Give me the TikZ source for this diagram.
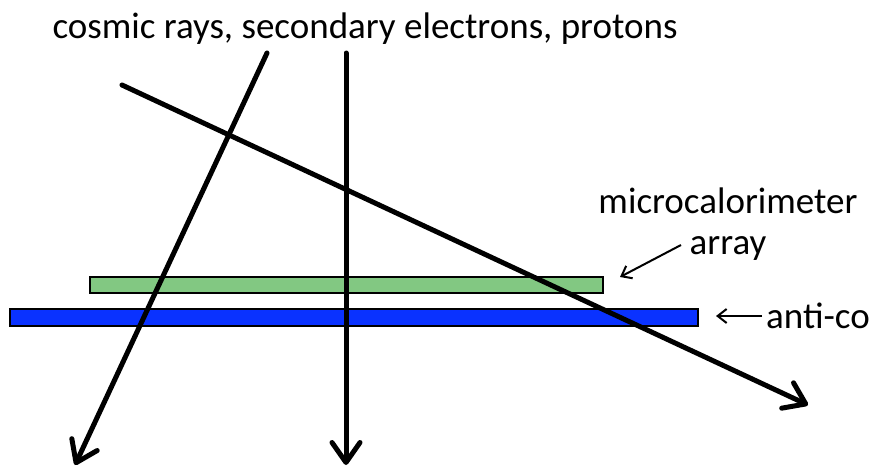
\documentclass[tikz,border=0pt]{standalone}
\usepackage{fontspec}
\setmainfont{Carlito}
\usetikzlibrary{arrows.meta}
\definecolor{arrgreen}{RGB}{130,200,130}
\definecolor{acoblue}{RGB}{10,50,255}
\begin{document}
\begin{tikzpicture}[x=1pt,y=-1pt,
  bar/.style={draw=black,line width=1.5pt,inner sep=0pt,outer sep=0pt},
  ray/.style={line width=5pt,line cap=round,-{Straight Barb[length=20pt,width=28pt,line cap=round,line join=round]}},
  pointer/.style={line width=2pt,-{Straight Barb[length=9pt,width=14pt]}},
  lbl/.style={font=\fontsize{37}{44}\selectfont,inner sep=0pt}]
\useasboundingbox (0,0) rectangle (873,469);
% bars
\node[bar,fill=arrgreen,minimum width=513pt,minimum height=16pt,anchor=north west] (array) at (90,277) {};
\node[bar,fill=acoblue,minimum width=688pt,minimum height=17pt,anchor=north west] (antico) at (10,309) {};
% rays
\coordinate (r1s) at (267,53);
\coordinate (r1e) at (75,465);
\coordinate (r2s) at (346,53);
\coordinate (r2e) at (346,465);
\coordinate (r3s) at (122,85);
\coordinate (r3e) at (808,405);
\draw[ray] (r1s) -- (r1e);
\draw[ray] (r2s) -- (r2e);
\draw[ray] (r3s) -- (r3e);
% labels
\node[lbl,anchor=base] (title) at (365,38) {cosmic rays, secondary electrons, protons};
\node[lbl,anchor=base] (micro) at (728,213) {microcalorimeter};
\node[lbl,anchor=base] (arr) at (728,254) {array};
\node[lbl,anchor=west] (aco) at (766,316) {anti-co};
\coordinate (p1) at (681,245);
\coordinate (p2) at (762,316);
\draw[pointer] (p1) -- (620,277);
\draw[pointer] (p2) -- (716,316);
\end{tikzpicture}
\end{document}
